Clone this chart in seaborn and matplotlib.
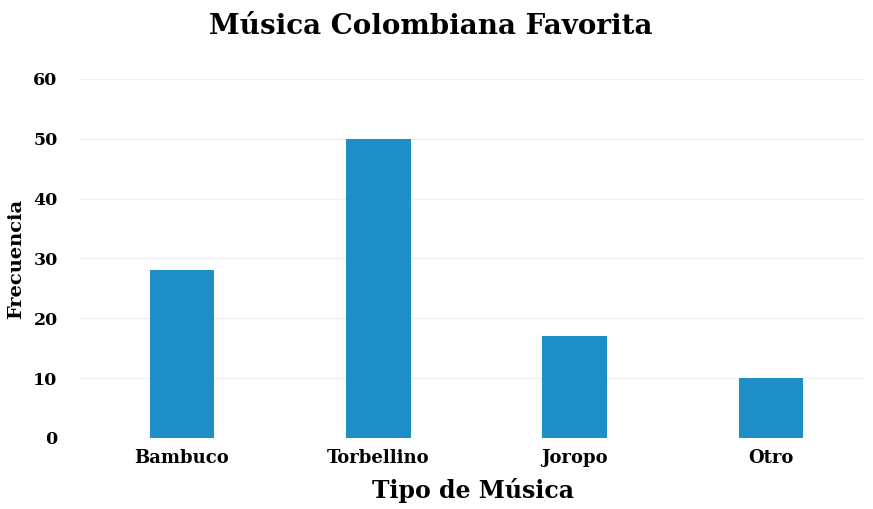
import matplotlib
matplotlib.use("Agg")
import matplotlib.pyplot as plt
import seaborn as sns
import pandas as pd

categorias = ["Bambuco", "Torbellino", "Joropo", "Otro"]
frecuencias = [28, 50, 17, 10]
y_ticks = [0, 10, 20, 30, 40, 50, 60]

df = pd.DataFrame({"Tipo de Música": categorias, "Frecuencia": frecuencias})

sns.set_theme(style="white")
plt.rcParams["font.family"] = ["DejaVu Serif"]
plt.rcParams["text.color"] = "black"
plt.rcParams["axes.labelcolor"] = "black"
plt.rcParams["xtick.color"] = "black"
plt.rcParams["ytick.color"] = "black"

fig = plt.figure(figsize=(8.73, 5.09), dpi=100)
ax = fig.add_axes([0.0916, 0.1395, 0.8994, 0.7053])

sns.barplot(data=df, x="Tipo de Música", y="Frecuencia", color="#1e8fc6",
            width=0.33, saturation=1, linewidth=0, ax=ax)

ax.set_ylim(0, 60)
ax.set_xlim(-0.52, 3.48)
ax.set_yticks(y_ticks)
ax.set_yticklabels([str(t) for t in y_ticks], fontsize=12.5, fontweight="heavy")
ax.tick_params(axis="y", length=0, pad=16)
ax.tick_params(axis="x", length=0, pad=8)
for lbl in ax.get_xticklabels():
    lbl.set_fontsize(13)
    lbl.set_fontweight("heavy")

ax.grid(axis="y", color="#f0f0f0", linewidth=1)
ax.set_axisbelow(True)
for s in ax.spines.values():
    s.set_visible(False)

ax.set_xlabel("Tipo de Música", fontsize=17, fontweight="heavy", labelpad=8)
ax.set_ylabel("Frecuencia", fontsize=14, fontweight="heavy", labelpad=6)
fig.suptitle("Música Colombiana Favorita", x=0.493, y=0.975, va="top",
             fontsize=20, fontweight="heavy")

fig.savefig("out.png", dpi=100, facecolor="white")
